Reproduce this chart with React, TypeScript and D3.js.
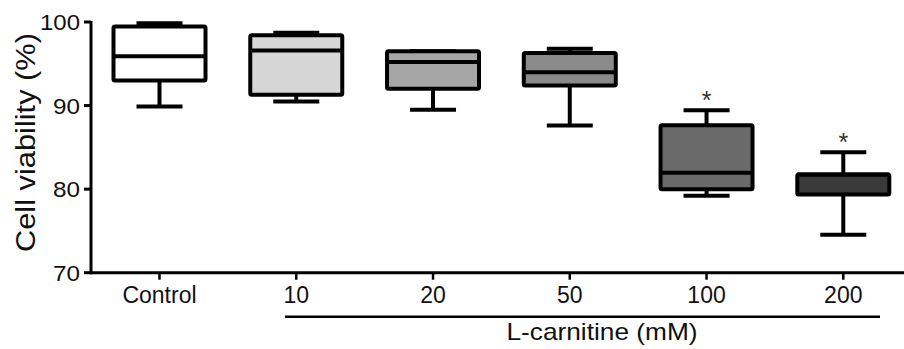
import React from "react";
import * as d3 from "d3";

const categories = ["Control", "10", "20", "50", "100", "200"];
const mins = [89.9, 90.5, 89.5, 87.6, 79.2, 74.55];
const q1s = [93.0, 91.3, 92.0, 92.4, 80.0, 79.35];
const medians = [95.9, 96.6, 95.2, 94.0, 81.95, 81.75];
const q3s = [99.45, 98.4, 96.5, 96.3, 87.65, 81.75];
const maxs = [99.85, 98.7, 96.5, 96.8, 89.45, 84.4];
const fills = ["#ffffff", "#d6d6d6", "#a6a6a6", "#8a8a8a", "#6a6a6a", "#3a3a3a"];
const significant = [false, false, false, false, true, true];
const yTicks = [70, 80, 90, 100];
const yLabel = "Cell viability (%)";
const groupLabel = "L-carnitine (mM)";

const W = 904;
const H = 349;
const FONT = "'Liberation Sans', Arial, sans-serif";

export default function App() {
  const y = d3.scaleLinear().domain([70, 100]).range([272.7, 22]);
  const x = d3.scalePoint<string>().domain(categories).range([159.5, 843.3]);
  const boxW = 92;
  const capW = 46;
  const axisX = 91;
  const axisY = y(70);

  return (
    <svg
      width={W}
      height={H}
      style={{ position: "absolute", left: 0, top: 0, background: "#fff" }}
      fontFamily={FONT}
    >
      {/* boxes */}
      {categories.map((c, i) => {
        const cx = x(c)!;
        return (
          <g key={c} stroke="#000" strokeWidth={4} strokeLinejoin="round">
            <line x1={cx} x2={cx} y1={y(maxs[i])} y2={y(q3s[i])} />
            <line x1={cx} x2={cx} y1={y(mins[i])} y2={y(q1s[i])} />
            <line x1={cx - capW / 2} x2={cx + capW / 2} y1={y(maxs[i])} y2={y(maxs[i])} />
            <line x1={cx - capW / 2} x2={cx + capW / 2} y1={y(mins[i])} y2={y(mins[i])} />
            <rect
              x={cx - boxW / 2}
              y={y(q3s[i])}
              width={boxW}
              height={y(q1s[i]) - y(q3s[i])}
              fill={fills[i]}
              rx={1.5}
            />
            <line x1={cx - boxW / 2} x2={cx + boxW / 2} y1={y(medians[i])} y2={y(medians[i])} />
            {significant[i] && (
              <text
                x={cx}
                y={y(maxs[i]) - 1}
                textAnchor="middle"
                fontSize={25}
                fill="#333"
                stroke="none"
              >
                *
              </text>
            )}
          </g>
        );
      })}

      {/* y axis */}
      <line x1={axisX} x2={axisX} y1={y(100) - 1} y2={axisY + 1.5} stroke="#000" strokeWidth={3} />
      {yTicks.map((t) => (
        <g key={t}>
          <line x1={axisX - 7} x2={axisX} y1={y(t)} y2={y(t)} stroke="#000" strokeWidth={3} />
          <text
            x={80}
            y={y(t) + 8}
            textAnchor="end"
            fontSize={22}
            fill="#111"
            textLength={t === 100 ? 40 : 27}
            lengthAdjust="spacingAndGlyphs"
          >
            {t}
          </text>
        </g>
      ))}
      <text
        transform="translate(35, 142.5) rotate(-90)"
        textAnchor="middle"
        fontSize={27}
        fill="#111"
        textLength={219}
        lengthAdjust="spacingAndGlyphs"
      >
        {yLabel}
      </text>

      {/* x axis */}
      <line x1={axisX - 1.5} x2={W} y1={axisY} y2={axisY} stroke="#000" strokeWidth={3} />
      {categories.map((c) => (
        <g key={c}>
          <line x1={x(c)!} x2={x(c)!} y1={axisY} y2={axisY + 7} stroke="#000" strokeWidth={2.5} />
          <text x={x(c)!} y={303} textAnchor="middle" fontSize={23} fill="#111">
            {c}
          </text>
        </g>
      ))}

      {/* group bracket */}
      <line x1={285} x2={880} y1={316.7} y2={316.7} stroke="#000" strokeWidth={2.5} />
      <text
        x={602}
        y={340}
        textAnchor="middle"
        fontSize={24}
        fill="#111"
        textLength={191}
        lengthAdjust="spacingAndGlyphs"
      >
        {groupLabel}
      </text>
    </svg>
  );
}
